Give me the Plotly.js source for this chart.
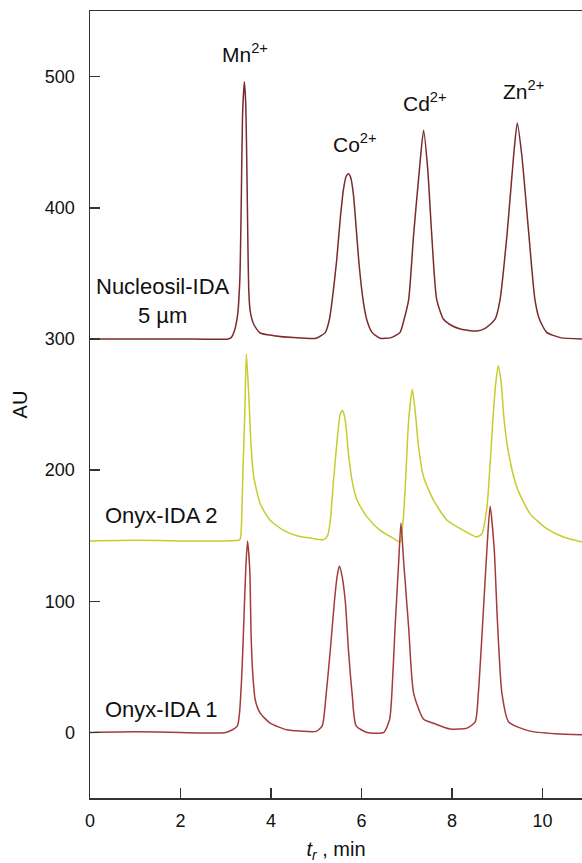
<!DOCTYPE html>
<html>
<head>
<meta charset="utf-8">
<script src="https://cdn.plot.ly/plotly-3.0.1.min.js"></script>
<style>html,body{margin:0;padding:0;background:#fff;}#chart{width:582px;height:863px;}</style>
</head>
<body>
<div id="chart"></div>
<script>
// Retention time (min) and absorbance (AU)
const xNucleosil = [0, 1.0, 2.0, 3.05, 3.12, 3.18, 3.26, 3.31, 3.34, 3.37,
  3.41, 3.44, 3.47, 3.49, 3.51, 3.54, 3.62, 3.76, 4.06, 4.5,
  5.0, 5.20, 5.29, 5.36, 5.45, 5.53, 5.60, 5.66, 5.71, 5.76,
  5.82, 5.88, 5.95, 6.04, 6.12, 6.23, 6.41, 6.65, 6.85, 6.94,
  7.04, 7.15, 7.28, 7.37, 7.46, 7.55, 7.66, 7.81, 7.95, 8.18,
  8.55, 8.73, 8.95, 9.06, 9.22, 9.36, 9.44, 9.54, 9.69, 9.83,
  9.93, 10.09, 10.39, 10.87];
const yNucleosil = [300, 300, 300, 300, 301, 305, 318, 345, 400, 470,
  496, 480, 420, 368, 335, 321, 311, 304.5, 302.5, 301,
  300.5, 305, 315, 332, 360, 392, 414, 424, 426, 423,
  410, 385, 355, 328, 314, 305, 300.5, 301, 305, 315,
  330, 379.5, 430, 459, 430, 379.5, 330, 315, 311, 307.5,
  306, 308, 315, 330, 382, 440, 464.6, 440, 382, 330,
  315, 305, 301, 300];

const xOnyx2 = [0, 1.0, 2.0, 3.0, 3.31, 3.34, 3.38, 3.42, 3.455, 3.51,
  3.56, 3.62, 3.76, 3.98, 4.28, 4.57, 4.9, 5.16, 5.25, 5.31,
  5.38, 5.46, 5.53, 5.58, 5.64, 5.71, 5.79, 5.90, 6.12, 6.41,
  6.71, 6.85, 6.93, 6.99, 7.04, 7.12, 7.19, 7.26, 7.37, 7.59,
  7.89, 8.25, 8.55, 8.66, 8.77, 8.84, 8.91, 8.97, 9.02, 9.08,
  9.15, 9.25, 9.43, 9.72, 10.09, 10.46, 10.87];
const yOnyx2 = [146, 146.5, 146, 146, 147, 154, 200, 243, 288.5, 255.5,
  217.5, 194.7, 174.4, 161.7, 154, 150, 148, 147, 150, 161.7,
  192, 222.6, 243, 245.4, 237.8, 212.5, 192, 177, 164.3, 154,
  147.8, 145.2, 166.8, 204.9, 237.8, 261.6, 243, 217.5, 194.7, 177,
  161.7, 154, 149, 151.6, 171.8, 204.9, 243, 268, 279.6, 268,
  237.8, 212.5, 187, 166.8, 155.4, 149, 145.2];

const xOnyx1 = [0, 1.0, 2.0, 3.0, 3.25, 3.34, 3.40, 3.44, 3.48, 3.53,
  3.56, 3.60, 3.65, 3.76, 3.98, 4.35, 4.65, 5.0, 5.13, 5.22,
  5.31, 5.40, 5.46, 5.51, 5.57, 5.64, 5.71, 5.79, 5.88, 6.12,
  6.49, 6.62, 6.67, 6.74, 6.82, 6.87, 6.93, 7.04, 7.15, 7.37,
  7.59, 7.96, 8.33, 8.51, 8.58, 8.68, 8.77, 8.84, 8.93, 9.00,
  9.10, 9.25, 9.72, 10.3, 10.87];
const yOnyx1 = [0, 0.5, 0, 0, 4.6, 35, 85.7, 123.7, 146, 123.7,
  73, 42.6, 24.9, 14.7, 7.1, 2, 1, 0.8, 5, 30,
  63, 100, 119, 126.8, 119, 100, 63, 30, 5, 0,
  0, 10, 30, 80, 130, 159.7, 130, 80, 30, 10,
  7, 2.6, 3.3, 8, 30, 86, 140, 172.4, 140, 86,
  30, 8, 1, -1, -1.7];

// Peak labels
const ionLabels = ['Mn<sup>2+</sup>', 'Co<sup>2+</sup>', 'Cd<sup>2+</sup>', 'Zn<sup>2+</sup>'];
const ionX = [3.43, 5.86, 7.40, 9.57];
const ionY = [518, 449, 481, 490];

// Column labels
const columnLabels = ['Nucleosil-IDA<br>5 µm', 'Onyx-IDA 2', 'Onyx-IDA 1'];
const columnX = [1.62, 1.56, 1.56];
const columnY = [329, 165, 17.5];

const xTicks = [0, 2, 4, 6, 8, 10];
const yTicks = [0, 100, 200, 300, 400, 500];

const FONT = 'Liberation Sans, Arial, Helvetica, sans-serif';

const traces = [
  {x: xNucleosil, y: yNucleosil, mode: 'lines', name: 'Nucleosil-IDA 5 µm',
   line: {color: '#7a2b2b', width: 1.5, shape: 'spline', smoothing: 0.6}},
  {x: xOnyx2, y: yOnyx2, mode: 'lines', name: 'Onyx-IDA 2',
   line: {color: '#c6cc2c', width: 1.5, shape: 'spline', smoothing: 0.6}},
  {x: xOnyx1, y: yOnyx1, mode: 'lines', name: 'Onyx-IDA 1',
   line: {color: '#a33b3b', width: 1.5, shape: 'spline', smoothing: 0.6}}
];

const annotations = [];
ionLabels.forEach((t, i) => annotations.push({
  x: ionX[i], y: ionY[i], xref: 'x', yref: 'y', text: t, showarrow: false,
  font: {family: FONT, size: 21, color: '#111'}
}));
columnLabels.forEach((t, i) => annotations.push({
  x: columnX[i], y: columnY[i], xref: 'x', yref: 'y', text: t, showarrow: false,
  align: 'center', font: {family: FONT, size: 22, color: '#111'}
}));

const layout = {
  width: 582, height: 863,
  margin: {l: 90, r: 0, t: 11, b: 65},
  paper_bgcolor: '#fff', plot_bgcolor: '#fff',
  showlegend: false,
  font: {family: FONT, color: '#111'},
  xaxis: {
    range: [0, 10.87], tickvals: xTicks, ticktext: xTicks.map(String),
    ticks: 'inside', ticklen: 10, tickwidth: 1.5, tickcolor: '#333',
    showline: true, linecolor: '#333', linewidth: 1.5, mirror: true,
    showgrid: false, zeroline: false,
    tickfont: {family: FONT, size: 18, color: '#111'},
    ticklabelstandoff: 6,
    title: {text: '<i>t</i><sub><i>r</i></sub> , min', font: {family: FONT, size: 20, color: '#111'}, standoff: 16}
  },
  yaxis: {
    range: [-50, 550], tickvals: yTicks, ticktext: yTicks.map(String),
    ticks: 'inside', ticklen: 10, tickwidth: 1.5, tickcolor: '#333',
    showline: true, linecolor: '#333', linewidth: 1.5, mirror: false,
    showgrid: false, zeroline: false,
    tickfont: {family: FONT, size: 18, color: '#111'},
    ticklabelstandoff: 10,
    title: {text: 'AU', font: {family: FONT, size: 20, color: '#111'}, standoff: 12}
  },
  annotations: annotations
};

Plotly.newPlot('chart', traces, layout, {staticPlot: true, displayModeBar: false});
</script>
</body>
</html>
